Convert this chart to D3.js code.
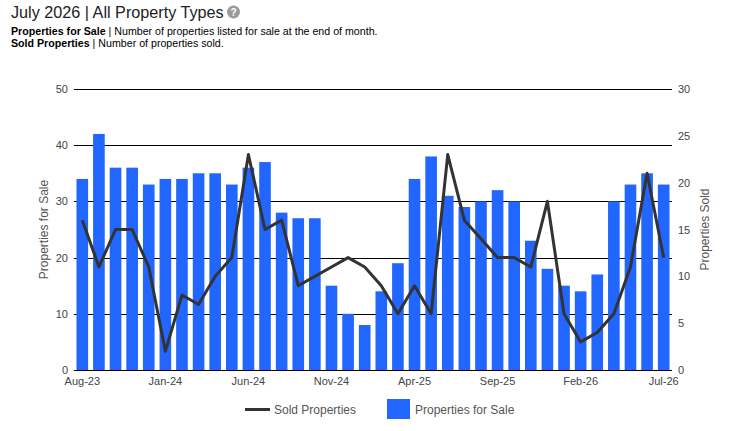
<!DOCTYPE html>
<html>
<head>
<meta charset="utf-8">
<script src="https://cdn.jsdelivr.net/npm/d3@7"></script>
<style>
	body { margin: 0; background: #fff; font-family: "Liberation Sans", Arial, sans-serif; }
	svg { display: block; }
</style>
</head>
<body>
<svg id="chart" width="748" height="431"></svg>
<script>
var months = ['Aug-23','Sep-23','Oct-23','Nov-23','Dec-23','Jan-24','Feb-24','Mar-24','Apr-24','May-24','Jun-24','Jul-24',
	'Aug-24','Sep-24','Oct-24','Nov-24','Dec-24','Jan-25','Feb-25','Mar-25','Apr-25','May-25','Jun-25','Jul-25',
	'Aug-25','Sep-25','Oct-25','Nov-25','Dec-25','Jan-26','Feb-26','Mar-26','Apr-26','May-26','Jun-26','Jul-26'];
var forSale = [34,42,36,36,33,34,34,35,35,33,36,37,28,27,27,15,10,8,14,19,34,38,31,29,30,32,30,23,18,15,14,17,30,33,35,33];
var sold = [16,11,15,15,11,2,8,7,10,12,23,15,16,9,10,11,12,11,9,6,9,6,23,16,14,12,12,11,18,6,3,4,6,11,21,12];
var xTicks = ['Aug-23','Jan-24','Jun-24','Nov-24','Apr-25','Sep-25','Feb-26','Jul-26'];
var leftTicks = [0,10,20,30,40,50];
var rightTicks = [0,5,10,15,20,25,30];

var svg = d3.select('#chart');
var plotLeft = 74, plotRight = 672, plotTop = 89, plotBottom = 370;

var xScale = d3.scaleBand().domain(months).range([plotLeft, plotRight]).paddingInner(0.3).paddingOuter(0.15);
var yLeft = d3.scaleLinear().domain([0, 50]).range([plotBottom, plotTop]);
var yRight = d3.scaleLinear().domain([0, 30]).range([plotBottom, plotTop]);

// title block
svg.append('text').attr('x', 11).attr('y', 18).attr('font-size', 16.2).attr('fill', '#222').text('July 2026 | All Property Types');
svg.append('circle').attr('cx', 233.5).attr('cy', 12).attr('r', 6.5).attr('fill', '#9a9a9a');
svg.append('text').attr('x', 233.5).attr('y', 16).attr('text-anchor', 'middle').attr('font-size', 10).attr('font-weight', 'bold').attr('fill', '#fff').text('?');

var sub1 = svg.append('text').attr('x', 11).attr('y', 35).attr('font-size', 10.65).attr('fill', '#000');
sub1.append('tspan').attr('font-weight', 'bold').text('Properties for Sale');
sub1.append('tspan').text(' | Number of properties listed for sale at the end of month.');
var sub2 = svg.append('text').attr('x', 11).attr('y', 47).attr('font-size', 10.65).attr('fill', '#000');
sub2.append('tspan').attr('font-weight', 'bold').text('Sold Properties');
sub2.append('tspan').text(' | Number of properties sold.');

// gridlines
svg.append('g').selectAll('line').data(leftTicks).enter().append('line')
	.attr('x1', plotLeft).attr('x2', plotRight)
	.attr('y1', function (d) { return Math.round(yLeft(d)) + 0.5; })
	.attr('y2', function (d) { return Math.round(yLeft(d)) + 0.5; })
	.attr('stroke', '#000').attr('stroke-width', 1);

// bars
svg.append('g').selectAll('rect').data(forSale).enter().append('rect')
	.attr('x', function (d, i) { return xScale(months[i]); })
	.attr('y', function (d) { return yLeft(d); })
	.attr('width', xScale.bandwidth())
	.attr('height', function (d) { return plotBottom - yLeft(d); })
	.attr('fill', '#2166ff');

// sold line
var line = d3.line()
	.x(function (d, i) { return xScale(months[i]) + xScale.bandwidth() / 2; })
	.y(function (d) { return yRight(d); });
svg.append('path').datum(sold).attr('d', line)
	.attr('fill', 'none').attr('stroke', '#333').attr('stroke-width', 3).attr('stroke-linejoin', 'round');

// axes
var xAxis = d3.axisBottom(xScale).tickValues(xTicks).tickSize(0).tickPadding(7);
var gx = svg.append('g').attr('transform', 'translate(0,' + plotBottom + ')').call(xAxis);
gx.select('.domain').remove();
gx.selectAll('text').attr('font-size', 11).attr('fill', '#444').attr('font-family', 'Liberation Sans, Arial, sans-serif');

var gl = svg.append('g').attr('transform', 'translate(' + plotLeft + ',0)')
	.call(d3.axisLeft(yLeft).tickValues(leftTicks).tickSize(0).tickPadding(6));
gl.select('.domain').remove();
gl.selectAll('text').attr('font-size', 11).attr('fill', '#444').attr('font-family', 'Liberation Sans, Arial, sans-serif');

var gr = svg.append('g').attr('transform', 'translate(' + plotRight + ',0)')
	.call(d3.axisRight(yRight).tickValues(rightTicks).tickSize(0).tickPadding(6));
gr.select('.domain').remove();
gr.selectAll('text').attr('font-size', 11).attr('fill', '#444').attr('font-family', 'Liberation Sans, Arial, sans-serif');

// axis titles
svg.append('text').attr('transform', 'translate(48,' + (plotTop + plotBottom) / 2 + ') rotate(-90)')
	.attr('text-anchor', 'middle').attr('font-size', 12).attr('fill', '#555').text('Properties for Sale');
svg.append('text').attr('transform', 'translate(709,' + (plotTop + plotBottom) / 2 + ') rotate(-90)')
	.attr('text-anchor', 'middle').attr('font-size', 12).attr('fill', '#555').text('Properties Sold');

// legend
var lg = svg.append('g');
lg.append('line').attr('x1', 245).attr('x2', 270).attr('y1', 409.5).attr('y2', 409.5).attr('stroke', '#333').attr('stroke-width', 3);
lg.append('text').attr('x', 274).attr('y', 414).attr('font-size', 12).attr('fill', '#555').text('Sold Properties');
lg.append('rect').attr('x', 387).attr('y', 399).attr('width', 23).attr('height', 20).attr('fill', '#2166ff');
lg.append('text').attr('x', 415).attr('y', 414).attr('font-size', 12).attr('fill', '#555').text('Properties for Sale');
</script>
</body>
</html>
